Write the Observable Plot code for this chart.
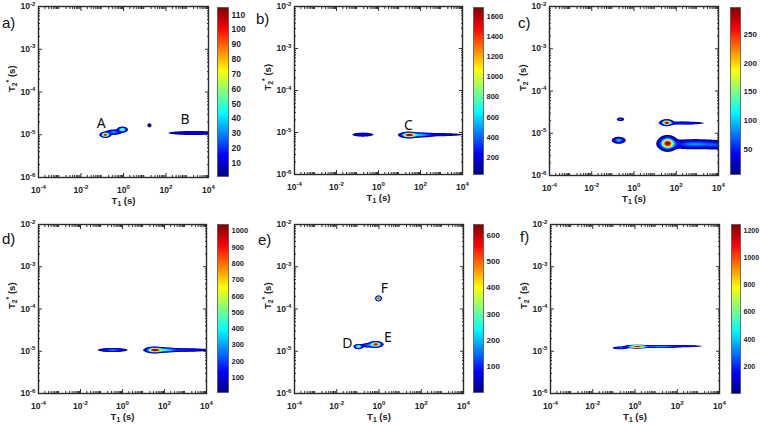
<!DOCTYPE html>
<html><head><meta charset="utf-8">
<script src="https://cdn.jsdelivr.net/npm/d3@7"></script>
<script src="https://cdn.jsdelivr.net/npm/@observablehq/plot@0.6"></script>
<style>
body{margin:0;background:#fff}
#fig{position:relative;width:760px;height:425px;overflow:hidden;background:#fff;font-family:"Liberation Sans",Arial,sans-serif}
#fig > *{position:absolute}
.plab{font-size:15px;line-height:1;color:#111;font-family:"Liberation Sans",Arial,sans-serif}
</style></head><body><div id="fig"></div>
<script>
// ---------- data ----------
const panelLabels = ["a)", "b)", "c)", "d)", "e)", "f)"];
const t1Ticks = [1e-4, 1e-2, 1, 1e2, 1e4];
const t1TickLabels = ["10^{-4}", "10^{-2}", "10^{0}", "10^{2}", "10^{4}"];
const t2Ticks = [1e-6, 1e-5, 1e-4, 1e-3, 1e-2];
const t2TickLabels = ["10^{-6}", "10^{-5}", "10^{-4}", "10^{-3}", "10^{-2}"];
const xLabel = "T_{1} (s)";
const yLabel = "T_{2}^{*} (s)";

// colour-bar ranges and ticks per panel
const colorMin = [1, 30, 6, 8, 1, 2];
const colorMax = [115, 1690, 297, 1040, 642, 1244];
const colorTicksA = [10, 20, 30, 40, 50, 60, 70, 80, 90, 100, 110];
const colorTicksB = [200, 400, 600, 800, 1000, 1200, 1400, 1600];
const colorTicksC = [50, 100, 150, 200, 250];
const colorTicksD = [100, 200, 300, 400, 500, 600, 700, 800, 900, 1000];
const colorTicksE = [100, 200, 300, 400, 500, 600];
const colorTicksF = [200, 400, 600, 800, 1000, 1200];

// peaks: [T1 (s), T2* (s), intensity, spread in log10 T1, spread in log10 T2*]
const peaksA = [
  [0.14, 1.0e-5, 112, 0.11, 0.028],
  [0.35, 1.15e-5, 35, 0.18, 0.03],
  [0.89, 1.32e-5, 65, 0.11, 0.03],
  [16.6, 1.66e-5, 14, 0.06, 0.03],
  [2000, 1.1e-5, 14, 0.75, 0.03]
];
const peaksB = [
  [0.18, 8.9e-6, 220, 0.29, 0.028],
  [28.2, 8.7e-6, 1680, 0.19, 0.031],
  [100, 8.7e-6, 450, 0.3, 0.028],
  [500, 8.9e-6, 230, 0.75, 0.022]
];
const peaksC = [
  [0.23, 2.14e-5, 85, 0.08, 0.02],
  [0.19, 6.8e-6, 110, 0.145, 0.036],
  [35.5, 1.78e-5, 290, 0.13, 0.031],
  [200, 1.74e-5, 60, 0.5, 0.018],
  [38.9, 5.75e-6, 295, 0.19, 0.075],
  [794, 5.5e-6, 90, 0.7, 0.055],
  [7943, 5.2e-6, 40, 0.3, 0.05]
];
const peaksD = [
  [0.34, 1.07e-5, 300, 0.33, 0.023],
  [33.1, 1.07e-5, 1040, 0.19, 0.031],
  [100, 1.07e-5, 330, 0.28, 0.028],
  [631, 1.07e-5, 200, 0.75, 0.022]
];
const peaksE = [
  [0.95, 1.78e-4, 620, 0.06, 0.027],
  [0.107, 1.29e-5, 380, 0.095, 0.025],
  [0.28, 1.38e-5, 150, 0.15, 0.025],
  [0.69, 1.45e-5, 640, 0.145, 0.031]
];
const peaksF = [
  [0.2, 1.2e-5, 300, 0.18, 0.016],
  [1.26, 1.29e-5, 1230, 0.25, 0.017],
  [15.8, 1.29e-5, 400, 0.45, 0.016],
  [200, 1.32e-5, 180, 0.5, 0.014]
];

// peak annotations
const peakNames = ["A", "B", "C", "D", "E", "F"];
const peakPanel = [0, 0, 1, 4, 4, 4];
const peakNameT1 = [0.089, 794, 26.9, 0.032, 2.6, 1.78];
const peakNameT2 = [1.82e-5, 2.29e-5, 1.48e-5, 1.55e-5, 2.14e-5, 3.0e-4];

// ---------- layout (pixel positions of frames / colour bars) ----------
const layout = [
  {box: [38, 208, 6, 177], cbar: [217, 228, 7, 176], lab: [2, 15], floor: 4, cbFont: 8.5},
  {box: [294, 462, 6, 174], cbar: [473, 483, 7, 174], lab: [256, 11], floor: 50, cbFont: 7.5},
  {box: [549, 718, 6, 175], cbar: [730, 740, 7, 174], lab: [518, 15], floor: 8, cbFont: 8},
  {box: [38, 206, 224, 393], cbar: [217, 228, 224, 392], lab: [2, 231], floor: 30, cbFont: 7.5},
  {box: [294, 463, 224, 393], cbar: [473, 483, 224, 392], lab: [258, 232], floor: 20, cbFont: 8},
  {box: [550, 719, 224, 393], cbar: [731, 740, 224, 393], lab: [520, 229], floor: 40, cbFont: 7}
];
const allPeaks = [peaksA, peaksB, peaksC, peaksD, peaksE, peaksF];
const allTicks = [colorTicksA, colorTicksB, colorTicksC, colorTicksD, colorTicksE, colorTicksF];

const jet = d3.piecewise(d3.interpolateRgb, ["#000084", "#0000ff", "#0080ff", "#00ffff", "#80ff80", "#ffff00", "#ff8000", "#ff0000", "#800000"]);

const minorT1 = [];
for (let e = -4; e < 4; e++) for (let k = 2; k <= 9; k++) minorT1.push(k * 10 ** e);
const minorT2 = [];
for (let e = -6; e < -2; e++) for (let k = 2; k <= 9; k++) minorT2.push(k * 10 ** e);

function field(peaks) {
  const P = peaks.map(([t1, t2, a, s1, s2]) => [Math.log10(t1), Math.log10(t2), a, s1, s2]);
  return (x, y) => {
    const lx = Math.log10(x), ly = Math.log10(y);
    let v = 0;
    for (const [cx, cy, a, sx, sy] of P) {
      const dx = (lx - cx) / sx, dy = (ly - cy) / sy;
      const q = dx * dx + dy * dy;
      if (q < 60) v += a * Math.exp(-0.5 * q);
    }
    return v;
  };
}

const SVGNS = "http://www.w3.org/2000/svg";
function richText(svg) {
  svg.querySelectorAll("text").forEach((t) => {
    const s = t.textContent;
    if (!/[_^]\{/.test(s)) return;
    t.textContent = "";
    const re = /([_^])\{([^}]*)\}/g;
    let last = 0, m, shift = 0;
    const add = (txt, dy, size) => {
      const ts = document.createElementNS(SVGNS, "tspan");
      ts.textContent = txt;
      if (dy) ts.setAttribute("dy", dy);
      if (size) ts.setAttribute("font-size", size);
      t.appendChild(ts);
    };
    while ((m = re.exec(s))) {
      if (m.index > last) { add(s.slice(last, m.index), -shift, null); shift = 0; }
      const d = m[1] === "_" ? 2.5 : -3.5;
      add(m[2], d - shift, "0.72em");
      shift = d;
      last = re.lastIndex;
    }
    if (last < s.length) add(s.slice(last), -shift, null);
  });
}

const fig = document.getElementById("fig");

function place(el, left, top) {
  el.style.left = left + "px";
  el.style.top = top + "px";
  fig.appendChild(el);
}

const tickStroke = {fill: "none", label: null, stroke: "#333"};

function panel(i) {
  const L = layout[i];
  const [bx0, bx1, by0, by1] = L.box;
  const mL = 40, mT = 6, mR = 6, mB = 36;
  const W = bx1 - bx0 + mL + mR, H = by1 - by0 + mT + mB;
  const lo = colorMin[i], hi = colorMax[i];
  const thresholds = d3.range(L.floor, hi, (hi - lo) / 34);
  const idx = d3.range(peakNames.length).filter((k) => peakPanel[k] === i);
  const svg = Plot.plot({
    width: W, height: H,
    marginLeft: mL, marginTop: mT, marginRight: mR, marginBottom: mB,
    x: {type: "log", domain: [1e-4, 1e4]},
    y: {type: "log", domain: [1e-6, 1e-2]},
    color: {type: "linear", domain: [lo, hi], interpolate: jet},
    style: {fontFamily: "Liberation Sans, Arial, sans-serif", fontSize: "8.5px", fontWeight: "bold", color: "#222", background: "transparent", overflow: "visible"},
    marks: [
      Plot.contour({fill: field(allPeaks[i]), x1: 1e-4, x2: 1e4, y1: 1e-6, y2: 1e-2, thresholds, width: 400, height: 700, stroke: "none"}),
      Plot.axisX({anchor: "bottom", ticks: t1Ticks, tickSize: -4, ...tickStroke}),
      Plot.axisX({anchor: "top", ticks: t1Ticks, tickSize: -4, ...tickStroke}),
      Plot.axisX({anchor: "bottom", ticks: minorT1, tickSize: -2, ...tickStroke}),
      Plot.axisX({anchor: "top", ticks: minorT1, tickSize: -2, ...tickStroke}),
      Plot.axisY({anchor: "left", ticks: t2Ticks, tickSize: -4, ...tickStroke}),
      Plot.axisY({anchor: "right", ticks: t2Ticks, tickSize: -4, ...tickStroke}),
      Plot.axisY({anchor: "left", ticks: minorT2, tickSize: -2, ...tickStroke}),
      Plot.axisY({anchor: "right", ticks: minorT2, tickSize: -2, ...tickStroke}),
      Plot.frame({stroke: "#2a2a2a", strokeWidth: 1.4}),
      Plot.text(t1Ticks, {x: (d) => d, frameAnchor: "bottom", dy: 15, lineAnchor: "bottom", text: (d, j) => t1TickLabels[j]}),
      Plot.text(t2Ticks, {y: (d) => d, frameAnchor: "left", dx: -3, textAnchor: "end", text: (d, j) => t2TickLabels[j]}),
      Plot.text([xLabel], {frameAnchor: "bottom", dy: 26, lineAnchor: "bottom", fontSize: 9.5}),
      Plot.text([yLabel], {frameAnchor: "left", dx: -24, rotate: -90, lineAnchor: "bottom", fontSize: 9.5}),
      Plot.text(idx, {x: (k) => peakNameT1[k], y: (k) => peakNameT2[k], text: (k) => peakNames[k], fontSize: 14, fontWeight: "normal", fontFamily: "Noto Sans, sans-serif", fill: "#111"})
    ]
  });
  richText(svg);
  place(svg, bx0 - mL, by0 - mT);

  // colour bar
  const [cx0, cx1, cy0, cy1] = L.cbar;
  const cT = 4, cB = 4, cR = 760 - cx1 < 28 ? 760 - cx1 - 1 : 28;
  const bar = Plot.plot({
    width: cx1 - cx0 + cR, height: cy1 - cy0 + cT + cB,
    marginLeft: 0, marginTop: cT, marginBottom: cB, marginRight: cR,
    x: {domain: [0, 1], axis: null},
    y: {domain: [lo, hi]},
    color: {type: "linear", domain: [lo, hi], interpolate: jet},
    style: {fontFamily: "Liberation Sans, Arial, sans-serif", fontSize: L.cbFont + "px", fontWeight: "bold", color: "#1c1c2e", background: "transparent", overflow: "visible"},
    marks: [
      Plot.raster({fill: (x, y) => y, x1: 0, x2: 1, y1: lo, y2: hi, pixelSize: 1}),
      Plot.frame({stroke: "#555", strokeWidth: 0.8}),
      Plot.axisY(allTicks[i], {anchor: "right", tickSize: 0, tickPadding: 3, label: null, tickFormat: (d) => String(d)})
    ]
  });
  place(bar, cx0, cy0 - cT);

  const lab = document.createElement("div");
  lab.className = "plab";
  lab.textContent = panelLabels[i];
  place(lab, L.lab[0], L.lab[1]);
}

for (let i = 0; i < 6; i++) panel(i);
</script>
</body></html>
